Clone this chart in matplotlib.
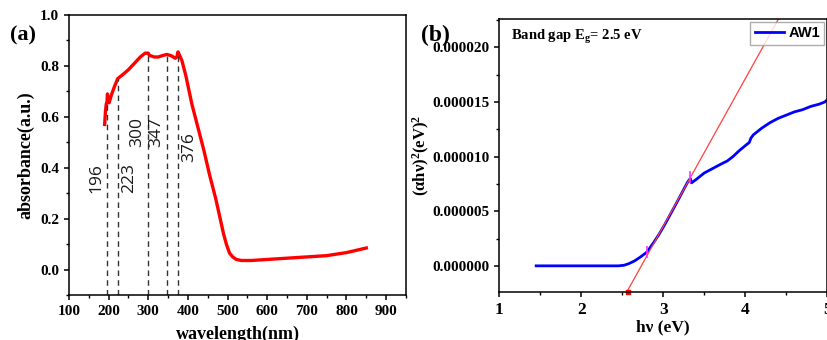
import numpy as np
import matplotlib
matplotlib.use("Agg")
import matplotlib.pyplot as plt
from matplotlib.ticker import MultipleLocator

# (a) UV-vis absorbance
wavelength = [190, 192, 194, 196, 197, 199, 201, 204, 208, 215, 223, 235, 250, 265,
              280, 292, 300, 303, 306, 315, 325, 335, 347, 358, 368, 372, 375, 378,
              385, 395, 410, 425, 440, 455, 470, 480, 490, 497, 505, 513, 522, 535,
              560, 600, 650, 700, 750, 800, 850]
absorbance = [0.57, 0.62, 0.65, 0.66, 0.69, 0.67, 0.655, 0.67, 0.69, 0.72, 0.75, 0.765,
              0.785, 0.81, 0.835, 0.85, 0.85, 0.84, 0.84, 0.835, 0.835, 0.84, 0.845,
              0.84, 0.83, 0.835, 0.855, 0.845, 0.82, 0.76, 0.65, 0.56, 0.47, 0.37,
              0.28, 0.21, 0.14, 0.10, 0.065, 0.05, 0.04, 0.036, 0.036, 0.04, 0.045,
              0.05, 0.055, 0.067, 0.085]
peaks = [196, 223, 300, 347, 376]
peak_label_y = [0.36, 0.36, 0.54, 0.54, 0.48]
peak_label_side = [-1, 1, -1, -1, 1]

# (b) Tauc plot
hv = [1.45, 2.0, 2.45, 2.52, 2.58, 2.65, 2.72, 2.8, 2.88, 2.95, 3.02, 3.1, 3.18, 3.25,
      3.3, 3.33, 3.345, 3.4, 3.5, 3.6, 3.7, 3.78, 3.85, 3.92, 4.0, 4.05, 4.07, 4.1,
      4.2, 4.3, 4.4, 4.5, 4.6, 4.7, 4.8, 4.9, 4.97, 5.0]
tauc = [0, 0, 0, 0.05, 0.2, 0.45, 0.8, 1.25, 2.1, 2.9, 3.8, 4.9, 6.0, 7.0, 7.7, 8.0,
        7.6, 7.9, 8.5, 8.9, 9.3, 9.6, 10.0, 10.5, 11.0, 11.3, 11.7, 12.0, 12.6, 13.1,
        13.5, 13.8, 14.1, 14.3, 14.6, 14.8, 15.0, 15.2]
tauc = np.array(tauc) * 1e-6
fit_x = [2.57, 4.42]
fit_y = [-2.2e-6, 22.8e-6]
fit_range_x = [2.8, 3.33]
fit_range_y = [1.25e-6, 8.1e-6]

serif = "Liberation Serif"
plt.rcParams["font.family"] = serif
plt.rcParams["font.weight"] = "bold"
plt.rcParams["mathtext.default"] = "regular"

fig = plt.figure(figsize=(8.28, 3.40), dpi=100)
ax1 = fig.add_axes([0.0833, 0.132, 0.407, 0.824])
ax2 = fig.add_axes([0.603, 0.141, 0.396, 0.803])

for ax in (ax1, ax2):
    for s in ax.spines.values():
        s.set_linewidth(1.1)
    ax.tick_params(which="major", direction="out", length=3.5, width=1.1, labelsize=11)
    ax.tick_params(which="minor", direction="out", length=2, width=1.0)
ax2.tick_params(axis="x", labelsize=12.5)

# panel a
ax1.plot(wavelength, absorbance, color="#ff0000", lw=2.4)
for p, ly, side in zip(peaks, peak_label_y, peak_label_side):
    top = np.interp(p, wavelength, absorbance)
    ax1.plot([p, p], [-0.1, top], color="#333333", lw=1, ls=(0, (4, 3)))
    ax1.annotate(str(p), (p, ly), xytext=(side * 8, 0), textcoords="offset points",
                 rotation=90, ha="center", va="center", fontsize=12.5,
                 family="Open Sans", fontweight="normal", color="#1a1a1a")
ax1.set_xlim(100, 950)
ax1.set_ylim(-0.1, 1.0)
ax1.set_xticks(np.arange(100, 901, 100))
ax1.set_yticks(np.arange(0, 1.01, 0.2))
ax1.yaxis.set_major_formatter(matplotlib.ticker.FormatStrFormatter("%.1f"))
ax1.xaxis.set_minor_locator(MultipleLocator(50))
ax1.yaxis.set_minor_locator(MultipleLocator(0.1))
ax1.set_xlabel("wavelength(nm)", fontsize=13, fontweight="bold", labelpad=6)
ax1.set_ylabel("absorbance(a.u.)", fontsize=13, fontweight="bold", labelpad=4)
fig.text(0.012, 0.88, "(a)", fontsize=16, fontweight="bold")

# panel b
ax2.plot(hv, tauc, color="#0000ff", lw=2.0, label="AW1")
ax2.plot(fit_x, fit_y, color="#ff4040", lw=0.9)
ax2.plot(fit_range_x, fit_range_y, ls="none", marker="|", ms=9, mew=1.2, color="#ff33ff")
ax2.plot([fit_x[0]], [-2.35e-6], ls="none", marker="s", ms=3.5, color="#ff0000", clip_on=False)
ax2.set_xlim(1, 5)
ax2.set_ylim(-2.4e-6, 22.6e-6)
ax2.set_xticks([1, 2, 3, 4, 5])
ax2.set_yticks(np.arange(0, 21e-6, 5e-6))
ax2.yaxis.set_major_formatter(matplotlib.ticker.FormatStrFormatter("%.6f"))
ax2.xaxis.set_minor_locator(MultipleLocator(0.5))
ax2.yaxis.set_minor_locator(MultipleLocator(2.5e-6))
ax2.set_xlabel("hν (eV)", fontsize=12.5, fontweight="bold", labelpad=1)
ax2.set_ylabel("(αhν)$^{2}$(eV)$^{2}$", fontsize=12, fontweight="bold", labelpad=0)
ax2.text(0.035, 0.935, "Band gap E$_{g}$= 2.5 eV", transform=ax2.transAxes,
         fontsize=10.5, fontweight="bold", va="center")
leg = ax2.legend(loc="upper right", frameon=True, fancybox=False,
                 borderaxespad=0.2, handlelength=2.0, handletextpad=0.3,
                 borderpad=0.3, prop={"family": "Liberation Sans", "size": 10.5})
leg.get_frame().set_edgecolor("#999999")
leg.get_frame().set_linewidth(1.0)
fig.text(0.508, 0.88, "(b)", fontsize=17, fontweight="bold")

for ax in (ax1, ax2):
    for lab in ax.get_xticklabels() + ax.get_yticklabels():
        lab.set_fontweight("bold")

fig.savefig("out.png", dpi=100)
